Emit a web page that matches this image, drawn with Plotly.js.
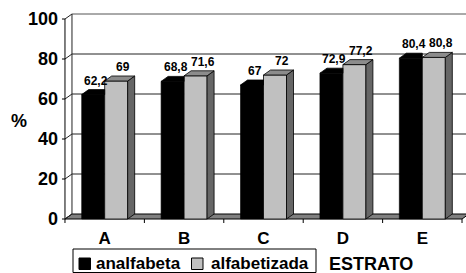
<!DOCTYPE html>
<html>
<head>
<meta charset="utf-8">
<script src="https://cdn.plot.ly/plotly-3.0.1.min.js"></script>
<style>html,body{margin:0;padding:0;background:#fff;}#chart{width:466px;height:273px;}</style>
</head>
<body>
<div id="chart"></div>
<script>
// ---- data ----
var categories = ['A', 'B', 'C', 'D', 'E'];
var seriesNames = ['analfabeta', 'alfabetizada'];
var analfabeta = [62.2, 68.8, 67, 72.9, 80.4];
var alfabetizada = [69, 71.6, 72, 77.2, 80.8];
var yTicks = [0, 20, 40, 60, 80, 100];
var xTitle = 'ESTRATO';
var yTitle = '%';

// ---- geometry ----
var W = 466, H = 273;
var mL = 61, mR = 0, mT = 13, mB = 49;
var xr = [-0.55, 4.55], yr = [-2.5, 103];
var pw = W - mL - mR, ph = H - mT - mB;
var kx = pw / (xr[1] - xr[0]);   // px per x unit
var ky = ph / (yr[1] - yr[0]);   // px per y unit
var dx = 7 / kx, dy = 5 / ky;    // 3D depth offset in data units
var bw = 23 / kx;                 // bar width
var FONT = 'Liberation Sans, Arial, sans-serif';
var xs = categories.map(function (c, i) { return i; });
function fmt(v) { return String(v).replace('.', ','); }
function bold(s) { return '<b>' + s + '</b>'; }
function px2x(p) { return (p - mL) / pw; }
function py2y(p) { return (H - mB - p) / ph; }

var traces = [];
// front faces as bars
traces.push({type: 'bar', x: xs, y: analfabeta, width: bw, offset: -bw, name: seriesNames[0],
  marker: {color: '#000000', line: {color: '#000', width: 0.6}}, hoverinfo: 'skip'});
traces.push({type: 'bar', x: xs, y: alfabetizada, width: bw, offset: 0, name: seriesNames[1],
  marker: {color: '#C0C0C0', line: {color: '#000', width: 0.8}}, hoverinfo: 'skip'});

function poly(px, py, fill, line) {
  traces.push({type: 'scatter', mode: 'lines', x: px.concat([px[0]]), y: py.concat([py[0]]),
    fill: 'toself', fillcolor: fill, line: {color: line, width: 0.8}, hoverinfo: 'skip', showlegend: false});
}
xs.forEach(function (x, i) {
  var a = analfabeta[i], g = alfabetizada[i];
  var x0 = x - bw, x1 = x, x2 = x + bw;
  // black top face (visible part, left of grey bar)
  poly([x0, x0 + dx, x1, x1], [a, a + dy, a + dy, a], '#000000', '#000000');
  // grey side face
  poly([x2, x2 + dx, x2 + dx, x2], [0, dy, g + dy, g], '#666666', '#000000');
  // grey top face
  poly([x1, x1 + dx, x2 + dx, x2], [g, g + dy, g + dy, g], '#8C8C8C', '#000000');
});

var shapes = [];
// floor
shapes.push({type: 'path', layer: 'below', xref: 'x', yref: 'y',
  path: 'M' + (-0.5) + ',0 L4.5,0 L' + (4.5 + dx) + ',' + dy + ' L' + (-0.5 + dx) + ',' + dy + ' Z',
  fillcolor: '#808080', line: {color: '#000', width: 1}});
// back wall gridlines and left-wall diagonals
yTicks.forEach(function (v) {
  if (v > 0) {
    shapes.push({type: 'line', layer: 'below', xref: 'x', yref: 'y', x0: -0.5 + dx, x1: 4.5 + dx, y0: v + dy, y1: v + dy,
      line: {color: v === 100 ? '#555' : '#222', width: 1}});
  }
  shapes.push({type: 'line', layer: 'below', xref: 'x', yref: 'y', x0: -0.5, x1: -0.5 + dx, y0: v, y1: v + dy,
    line: {color: '#222', width: 1}});
  // y tick marks
  shapes.push({type: 'line', xref: 'x', yref: 'y', x0: -0.5 - 3 / kx, x1: -0.5, y0: v, y1: v,
    line: {color: '#000', width: 1}});
});
// back wall left edge
shapes.push({type: 'line', layer: 'below', xref: 'x', yref: 'y', x0: -0.5 + dx, x1: -0.5 + dx, y0: dy, y1: 100 + dy,
  line: {color: '#222', width: 1}});
// front y axis
shapes.push({type: 'line', xref: 'x', yref: 'y', x0: -0.5, x1: -0.5, y0: 0, y1: 100, line: {color: '#000', width: 1}});
// x boundary ticks
for (var b = 0; b <= categories.length; b++) {
  shapes.push({type: 'line', xref: 'x', yref: 'y', x0: b - 0.5, x1: b - 0.5, y0: 0, y1: -4 / ky,
    line: {color: '#000', width: 1}});
}
// legend box
shapes.push({type: 'rect', xref: 'paper', yref: 'paper', x0: px2x(73), x1: px2x(316), y0: py2y(272.5), y1: py2y(249),
  line: {color: '#000', width: 1}, fillcolor: 'rgba(0,0,0,0)'});
shapes.push({type: 'rect', xref: 'paper', yref: 'paper', x0: px2x(79), x1: px2x(90.5), y0: py2y(269.5), y1: py2y(258),
  line: {color: '#000', width: 1}, fillcolor: '#000'});
shapes.push({type: 'rect', xref: 'paper', yref: 'paper', x0: px2x(191.5), x1: px2x(203), y0: py2y(269.5), y1: py2y(258),
  line: {color: '#000', width: 1}, fillcolor: '#C0C0C0'});

var annotations = [];
xs.forEach(function (x, i) {
  annotations.push({x: x - bw / 2, y: analfabeta[i], xref: 'x', yref: 'y', text: bold(fmt(analfabeta[i])), showarrow: false,
    xshift: 3, yshift: 14, yanchor: 'middle', font: {family: FONT, size: 12, color: '#000'}});
  annotations.push({x: x + bw / 2, y: alfabetizada[i], xref: 'x', yref: 'y', text: bold(fmt(alfabetizada[i])), showarrow: false,
    xshift: 7, yshift: 14, yanchor: 'middle', font: {family: FONT, size: 12, color: '#000'}});
});
annotations.push({xref: 'paper', yref: 'paper', x: px2x(138.5), y: py2y(263.5), text: bold(seriesNames[0]), showarrow: false,
  xanchor: 'center', yanchor: 'middle', font: {family: FONT, size: 17, color: '#000'}});
annotations.push({xref: 'paper', yref: 'paper', x: px2x(259.5), y: py2y(263.5), text: bold(seriesNames[1]), showarrow: false,
  xanchor: 'center', yanchor: 'middle', font: {family: FONT, size: 17, color: '#000'}});
annotations.push({xref: 'paper', yref: 'paper', x: px2x(371), y: py2y(264), text: bold(xTitle), showarrow: false,
  xanchor: 'center', yanchor: 'middle', font: {family: FONT, size: 18, color: '#000'}});
annotations.push({xref: 'paper', yref: 'paper', x: px2x(18.5), y: py2y(121), text: bold(yTitle), showarrow: false,
  xanchor: 'center', yanchor: 'middle', font: {family: FONT, size: 18, color: '#000'}});

var layout = {
  width: W, height: H,
  margin: {l: mL, r: mR, t: mT, b: mB, pad: 0},
  paper_bgcolor: '#fff', plot_bgcolor: '#fff',
  showlegend: false,
  barmode: 'overlay',
  xaxis: {range: xr, tickvals: xs, ticktext: categories.map(bold), showgrid: false, zeroline: false, showline: false,
    ticks: '', ticklabelstandoff: 2, tickfont: {family: FONT, size: 17, color: '#000'}, fixedrange: true},
  yaxis: {range: yr, tickvals: yTicks, ticktext: yTicks.map(function (t) { return bold(t); }), showgrid: false, zeroline: false, showline: false,
    ticks: '', ticklabelstandoff: 2, tickfont: {family: FONT, size: 18, color: '#000'}, fixedrange: true},
  shapes: shapes,
  annotations: annotations
};
Plotly.newPlot('chart', traces, layout, {displayModeBar: false, staticPlot: true});
</script>
</body>
</html>
